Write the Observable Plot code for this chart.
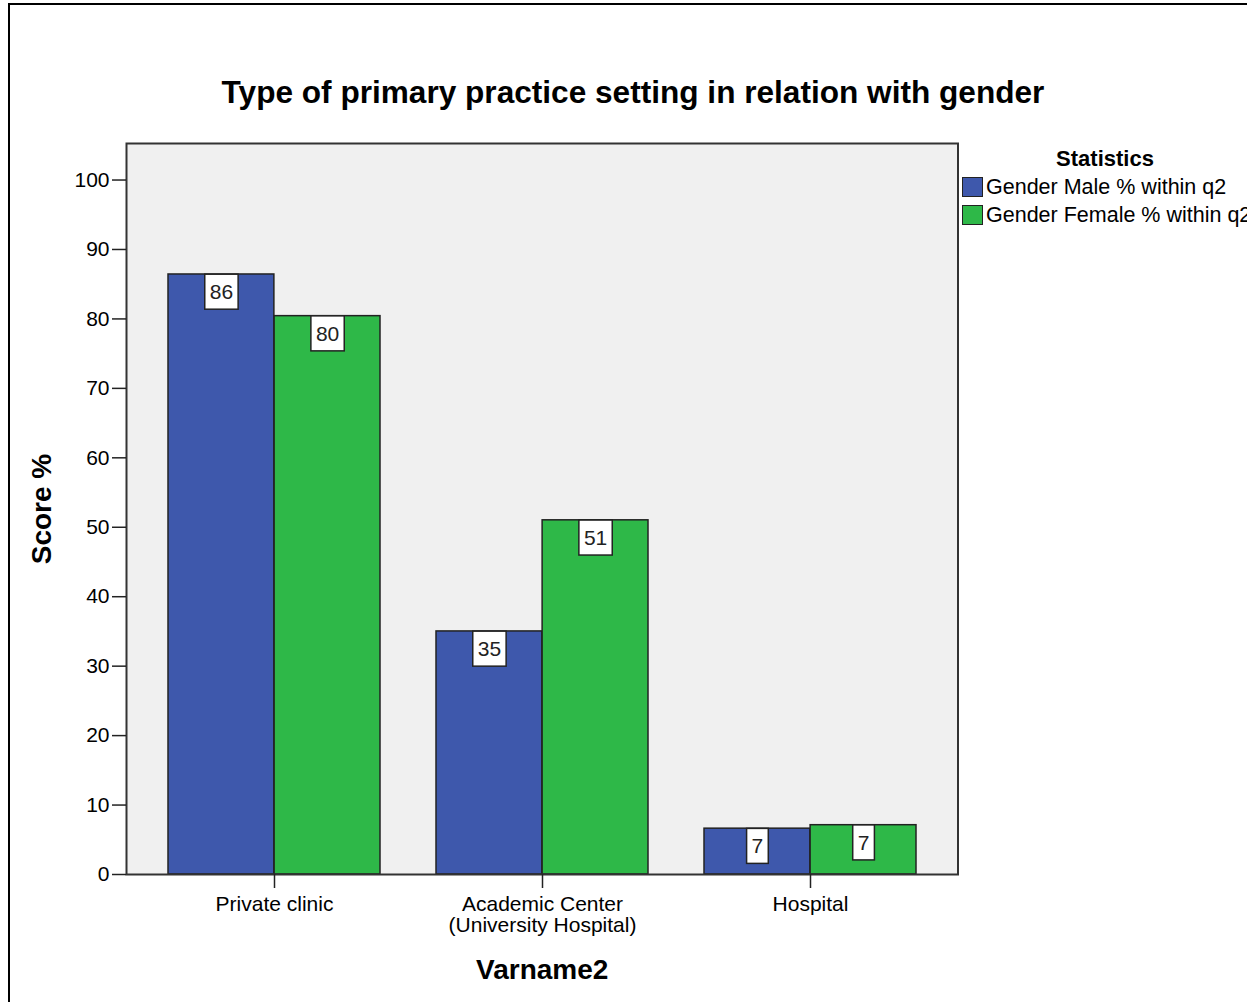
<!DOCTYPE html>
<html>
<head>
<meta charset="utf-8">
<script src="https://cdn.jsdelivr.net/npm/d3@7"></script>
<script src="https://cdn.jsdelivr.net/npm/@observablehq/plot@0.6"></script>
<style>
  html, body { margin: 0; padding: 0; background: #fff; width: 1247px; height: 1002px; overflow: hidden; }
  body { position: relative; font-family: "Liberation Sans", Arial, sans-serif; color: #000; }
  #border { position: absolute; left: 8px; top: 3px; width: 1400px; height: 1200px; border-top: 2px solid #000; border-left: 2px solid #000; }
  #title { position: absolute; top: 77px; left: 133px; width: 1000px; text-align: center; font-size: 31.6px; line-height: 31.6px; font-weight: bold; white-space: nowrap; }
  #chart { position: absolute; left: 0; top: 120px; }
  #legend { position: absolute; left: 961px; top: 148px; width: 300px; }
  #legend .ltitle { position: absolute; left: 84px; width: 120px; text-align: center; top: 0; font-size: 22px; line-height: 22px; font-weight: bold; }
  #legend .row { position: absolute; left: 0; height: 28px; white-space: nowrap; font-size: 21.5px; line-height: 21px; }
  #legend .sw { position: absolute; left: 1px; top: 0; width: 19px; height: 18px; border: 1.5px solid #222; }
  #legend .lab { position: absolute; left: 25px; top: 0px; }
</style>
</head>
<body>
<div id="border"></div>
<div id="title">Type of primary practice setting in relation with gender</div>
<div id="chart"></div>
<div id="legend"></div>
<script>
// ---- data ----
const categories = ["Private clinic", "Academic Center\n(University Hospital)", "Hospital"];
const seriesNames = ["Gender Male % within q2", "Gender Female % within q2"];
const maleValues = [86.4, 35.0, 6.6];
const femaleValues = [80.4, 51.0, 7.1];
const labelMale = ["86", "35", "7"];
const labelFemale = ["80", "51", "7"];
const seriesColors = ["#3E58AC", "#2EB848"];
const yTicks = [0, 10, 20, 30, 40, 50, 60, 70, 80, 90, 100];

const maleRows = categories.map((c, i) => ({cat: c, value: maleValues[i], label: labelMale[i]}));
const femaleRows = categories.map((c, i) => ({cat: c, value: femaleValues[i], label: labelFemale[i]}));

// ---- layout ----
const W = 975, H = 882;
const mL = 126, mR = 17.5, mT = 23, mB = 128;
const xOpts = {type: "band", domain: categories, range: [mL, W - mR], paddingInner: 0.209, paddingOuter: 0.154};
const bw = Plot.scale({x: xOpts}).bandwidth;
const half = bw / 2;

const chart = Plot.plot({
  width: W,
  height: H,
  marginLeft: mL,
  marginRight: mR,
  marginTop: mT,
  marginBottom: mB,
  style: {fontFamily: "Liberation Sans, Arial, sans-serif", fontSize: "21px", color: "#000", background: "transparent"},
  x: {domain: categories, paddingInner: 0.209, paddingOuter: 0.154, label: null},
  y: {domain: [0, 105.26], label: null},
  marks: [
    Plot.frame({fill: "#F0F0F0", stroke: null}),
    Plot.barY(maleRows, {x: "cat", y: "value", fill: seriesColors[0], stroke: "#222", strokeWidth: 1.5, insetLeft: 0, insetRight: half}),
    Plot.barY(femaleRows, {x: "cat", y: "value", fill: seriesColors[1], stroke: "#222", strokeWidth: 1.5, insetLeft: half, insetRight: 0}),
    Plot.frame({stroke: "#333", strokeWidth: 2}),
    Plot.axisY({ticks: yTicks, tickSize: 14, tickPadding: 3, label: null, fontSize: 21, stroke: "#222", strokeWidth: 1.5}),
    Plot.axisX({tickSize: 14, tickPadding: 8, label: null, fontSize: 21, lineHeight: 1.0, stroke: "#222", strokeWidth: 1.5}),
    Plot.text(maleRows, {x: "cat", y: "value", text: "label", dx: -half / 2, dy: 18, lineAnchor: "middle", fontSize: 21, fill: "#222", className: "barlab"}),
    Plot.text(femaleRows, {x: "cat", y: "value", text: "label", dx: half / 2, dy: 18, lineAnchor: "middle", fontSize: 21, fill: "#222", className: "barlab"}),
    Plot.text(["Score %"], {frameAnchor: "left", text: d => d, rotate: -90, dx: -84, textAnchor: "middle", lineAnchor: "middle", fontSize: 28, fontWeight: "bold"}),
    Plot.text(["Varname2"], {frameAnchor: "bottom", text: d => d, dy: 96, textAnchor: "middle", lineAnchor: "middle", fontSize: 28, fontWeight: "bold"})
  ]
});
document.getElementById("chart").appendChild(chart);

// white boxes behind value labels
const svg = d3.select(chart);
svg.selectAll("g.barlab text").each(function () {
  const bb = this.getBBox();
  const boxH = 35, padX = 5;
  const g = this.parentNode;
  const t = this.getAttribute("transform");
  const r = document.createElementNS("http://www.w3.org/2000/svg", "rect");
  r.setAttribute("x", bb.x - padX);
  r.setAttribute("y", bb.y + bb.height / 2 - boxH / 2);
  r.setAttribute("width", bb.width + 2 * padX);
  r.setAttribute("height", boxH);
  r.setAttribute("fill", "#fff");
  r.setAttribute("stroke", "#222");
  r.setAttribute("stroke-width", 1.5);
  if (t) r.setAttribute("transform", t);
  g.insertBefore(r, this);
});

// legend
const legend = d3.select("#legend");
legend.append("div").attr("class", "ltitle").text("Statistics");
seriesNames.forEach((name, i) => {
  const row = legend.append("div").attr("class", "row").style("top", (29 + i * 28) + "px");
  row.append("div").attr("class", "sw").style("background", seriesColors[i]);
  row.append("div").attr("class", "lab").text(name);
});
</script>
</body>
</html>
